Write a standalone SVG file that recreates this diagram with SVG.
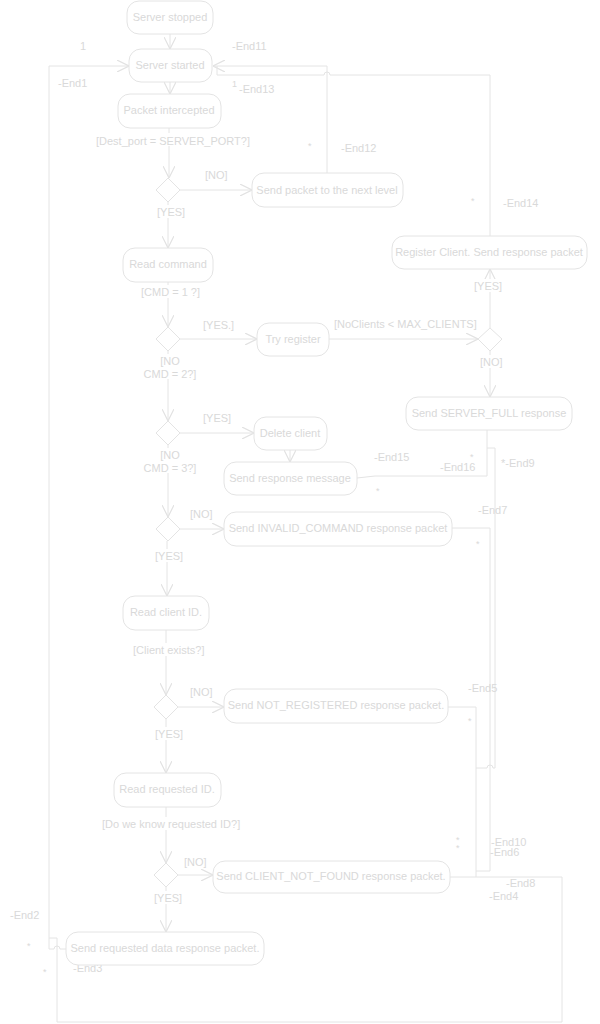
<svg xmlns="http://www.w3.org/2000/svg" width="600" height="1024" viewBox="0 0 600 1024">
<defs>
<marker id="arr" markerUnits="userSpaceOnUse" markerWidth="12" markerHeight="12" refX="10" refY="5" orient="auto" viewBox="0 0 10 10">
<path d="M0,0 L10,5 L0,10" fill="none" stroke="#e2e2e2" stroke-width="1"/>
</marker>
</defs>
<style>
text{font-family:"Liberation Sans",Arial,sans-serif;font-size:11px;fill:#d9d9d9}
.n rect{fill:#fff;stroke:#e4e4e4;stroke-width:1}
.n text{text-anchor:middle}
.d{fill:#fff;stroke:#e4e4e4;stroke-width:1}
.c path{fill:none;stroke:#e4e4e4;stroke-width:1}
.c .a{marker-end:url(#arr)}
.bg{fill:#fff}
.m{text-anchor:middle}
.s{font-size:9px}
</style>
<rect width="600" height="1024" fill="#fff"/>
<g id="connectors" class="c">
<path class="a" d="M170,34 V49"/>
<path class="a" d="M170,82 V94"/>
<path class="a" d="M169,128 V178"/>
<path class="a" d="M180,190 H252"/>
<path class="a" d="M168,202 V248"/>
<path class="a" d="M327,173 V66 H213"/>
<path d="M490,236 V75 H330 A3,3 0 0 0 324,75 H217 V66"/>
<path class="a" d="M168,282 V327"/>
<path class="a" d="M180,339 H257"/>
<path class="a" d="M329,339 H478"/>
<path class="a" d="M490,328 V269"/>
<path class="a" d="M490,351 V397"/>
<path class="a" d="M168,351 V421"/>
<path class="a" d="M180,433 H254"/>
<path class="a" d="M290,450 V462"/>
<path class="a" d="M168,445 V517"/>
<path class="a" d="M180,529 H224"/>
<path class="a" d="M167,541 V596"/>
<path class="a" d="M166,630 V695"/>
<path class="a" d="M178,707 H224"/>
<path class="a" d="M166,719 V773"/>
<path class="a" d="M166,807 V863"/>
<path class="a" d="M178,875 H213"/>
<path class="a" d="M166,887 V932"/>
<path d="M487,430 V448 H495 V768 H493 A3,3 0 0 0 487,768 H476"/>
<path d="M357,478 L375,476 H487 V448"/>
<path d="M452,528 H490 V871 H476"/>
<path d="M448,707 H476 V877"/>
<path d="M450,877 H562 V1022 H57 V938 H49"/>
<path class="a" d="M66,949 H60 A3,3 0 0 0 54,949 H49 V66 H129"/>
</g>
<g id="edge-labels">
<rect class="bg" x="95" y="133" width="152" height="13"/>
<text x="96" y="145">[Dest_port = SERVER_PORT?]</text>
<text x="205" y="179">[NO]</text>
<rect class="bg" x="155" y="205" width="30" height="13"/>
<text x="157" y="216">[YES]</text>
<rect class="bg" x="140" y="285" width="60" height="13"/>
<text x="141" y="296">[CMD = 1 ?]</text>
<text x="203" y="329">[YES.]</text>
<text x="334" y="328">[NoClients &lt; MAX_CLIENTS]</text>
<rect class="bg" x="472" y="279" width="30" height="13"/>
<text x="474" y="290">[YES]</text>
<rect class="bg" x="478" y="355" width="26" height="13"/>
<text x="480" y="366">[NO]</text>
<rect class="bg" x="143" y="354" width="56" height="25"/>
<text class="m" x="170" y="365">[NO</text>
<text class="m" x="170" y="378">CMD = 2?]</text>
<text x="203" y="422">[YES]</text>
<rect class="bg" x="143" y="448" width="56" height="25"/>
<text class="m" x="170" y="459">[NO</text>
<text class="m" x="170" y="472">CMD = 3?]</text>
<text x="190" y="518">[NO]</text>
<rect class="bg" x="153" y="549" width="31" height="13"/>
<text x="155" y="560">[YES]</text>
<rect class="bg" x="131" y="643" width="73" height="13"/>
<text x="133" y="654">[Client exists?]</text>
<text x="190" y="696">[NO]</text>
<rect class="bg" x="153" y="727" width="31" height="13"/>
<text x="155" y="738">[YES]</text>
<rect class="bg" x="100" y="817" width="137" height="13"/>
<text x="102" y="828">[Do we know requested ID?]</text>
<text x="184" y="866">[NO]</text>
<rect class="bg" x="152" y="891" width="31" height="13"/>
<text x="154" y="902">[YES]</text>
</g>
<g id="end-labels">
<text x="80" y="50">1</text>
<text x="232" y="50">-End11</text>
<text x="58" y="87">-End1</text>
<text class="s" x="232" y="87">1</text>
<text x="239" y="93">-End13</text>
<text class="s" x="308" y="149">*</text>
<text x="341" y="152">-End12</text>
<text class="s" x="471" y="204">*</text>
<text x="503" y="207">-End14</text>
<text x="374" y="461">-End15</text>
<text class="s" x="470" y="460">*</text>
<text x="440" y="471">-End16</text>
<text x="501" y="467">*-End9</text>
<text class="s" x="376" y="494">*</text>
<text x="478" y="514">-End7</text>
<text class="s" x="476" y="547">*</text>
<text x="468" y="692">-End5</text>
<text class="s" x="468" y="724">*</text>
<text class="s" x="456" y="843">*</text>
<text class="s" x="456" y="851">*</text>
<text x="491" y="846">-End10</text>
<text x="490" y="856">-End6</text>
<text x="506" y="887">-End8</text>
<text x="489" y="900">-End4</text>
<text x="10" y="919">-End2</text>
<text class="s" x="27" y="949">*</text>
<text class="s" x="43" y="975">*</text>
<text x="73" y="972">-End3</text>
</g>
<g id="n-server-stopped" class="n"><rect x="127" y="1" width="86" height="33" rx="12"/><text x="170" y="21">Server stopped</text></g>
<g id="n-server-started" class="n"><rect x="129" y="49" width="83" height="33" rx="12"/><text x="170" y="69">Server started</text></g>
<g id="n-packet-intercepted" class="n"><rect x="118" y="94" width="103" height="34" rx="12"/><text x="169" y="114">Packet intercepted</text></g>
<g id="n-send-next-level" class="n"><rect x="252" y="173" width="151" height="34" rx="12"/><text x="327" y="194">Send packet to the next level</text></g>
<g id="n-read-command" class="n"><rect x="123" y="248" width="90" height="34" rx="12"/><text x="168" y="268">Read command</text></g>
<g id="n-try-register" class="n"><rect x="257" y="323" width="72" height="33" rx="12"/><text x="293" y="343">Try register</text></g>
<g id="n-register-client" class="n"><rect x="392" y="236" width="195" height="33" rx="12"/><text x="489" y="256">Register Client. Send response packet</text></g>
<g id="n-server-full" class="n"><rect x="406" y="397" width="166" height="33" rx="12"/><text x="489" y="417">Send SERVER_FULL response</text></g>
<g id="n-delete-client" class="n"><rect x="254" y="417" width="73" height="33" rx="12"/><text x="290" y="437">Delete client</text></g>
<g id="n-send-response-message" class="n"><rect x="224" y="462" width="133" height="33" rx="12"/><text x="290" y="482">Send response message</text></g>
<g id="n-invalid-command" class="n"><rect x="224" y="512" width="228" height="34" rx="12"/><text x="338" y="532">Send INVALID_COMMAND response packet</text></g>
<g id="n-read-client-id" class="n"><rect x="123" y="596" width="86" height="34" rx="12"/><text x="166" y="616">Read client ID.</text></g>
<g id="n-not-registered" class="n"><rect x="224" y="689" width="224" height="34" rx="12"/><text x="336" y="709">Send NOT_REGISTERED response packet.</text></g>
<g id="n-read-requested-id" class="n"><rect x="114" y="773" width="107" height="34" rx="12"/><text x="167" y="793">Read requested ID.</text></g>
<g id="n-client-not-found" class="n"><rect x="213" y="861" width="237" height="32" rx="12"/><text x="331" y="880">Send CLIENT_NOT_FOUND response packet.</text></g>
<g id="n-send-requested-data" class="n"><rect x="66" y="932" width="198" height="33" rx="12"/><text x="165" y="952">Send requested data response packet.</text></g>
<g id="d-dest-port"><path class="d" d="M168,178 L180,190 L168,202 L156,190 Z"/></g>
<g id="d-cmd1"><path class="d" d="M168,327 L180,339 L168,351 L156,339 Z"/></g>
<g id="d-noclients"><path class="d" d="M490,328 L502,339 L490,351 L478,339 Z"/></g>
<g id="d-cmd2"><path class="d" d="M168,421 L180,433 L168,445 L156,433 Z"/></g>
<g id="d-cmd3"><path class="d" d="M168,517 L180,529 L168,541 L156,529 Z"/></g>
<g id="d-client-exists"><path class="d" d="M166,695 L178,707 L166,719 L154,707 Z"/></g>
<g id="d-know-id"><path class="d" d="M166,863 L178,875 L166,887 L154,875 Z"/></g>
</svg>
